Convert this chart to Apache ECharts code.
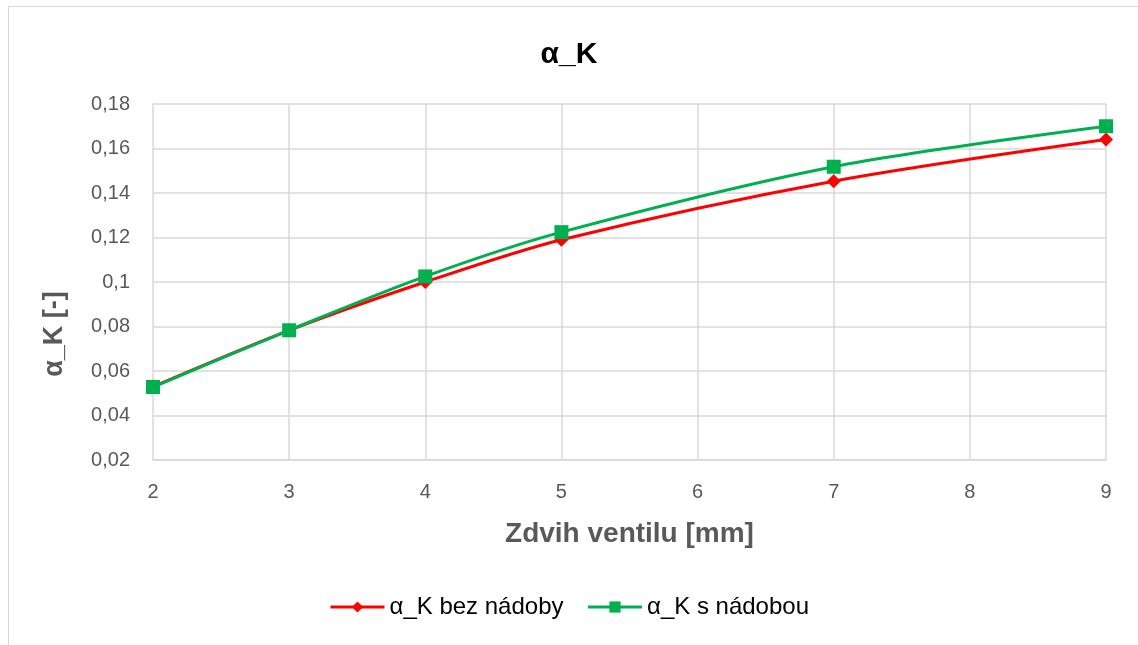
<!DOCTYPE html>
<html><head><meta charset="utf-8">
<script src="https://cdn.jsdelivr.net/npm/echarts@6/dist/echarts.min.js"></script>
<style>html,body{margin:0;padding:0;background:#fff}#c{width:1138px;height:645px}</style>
</head><body><div id="c"></div>
<script>
const xValues = [2, 3, 4, 5, 7, 9];
const bezNadoby = [0.0530, 0.0783, 0.1000, 0.1190, 0.1453, 0.1640];
const sNadobou = [0.0528, 0.0783, 0.1025, 0.1224, 0.1518, 0.1700];
const seriesNames = ['α_K bez nádoby', 'α_K s nádobou'];
const titleText = 'α_K';
const xName = 'Zdvih ventilu [mm]';
const yName = 'α_K [-]';

const font = '"Liberation Sans", "DejaVu Sans", sans-serif';
const chart = echarts.init(document.getElementById('c'));
const pairs = arr => xValues.map((x, i) => [x, arr[i]]);
chart.setOption({
  backgroundColor: '#fff',
  animation: false,
  graphic: [
    {type: 'rect', shape: {x: 8.5, y: 6.5, width: 1140, height: 650}, style: {fill: 'none', stroke: '#d9d9d9', lineWidth: 1}},
    {type: 'text', x: 55, y: 334, rotation: Math.PI / 2,
     style: {text: yName, fontFamily: font, fontSize: 27, fontWeight: 'bold', fill: '#595959', align: 'center', verticalAlign: 'middle'}}
  ],
  title: {text: titleText, left: 'center', top: 35, textStyle: {fontFamily: font, fontSize: 30, fontWeight: 'bold', color: '#000'}},
  grid: {left: 153, right: 32, top: 104, bottom: 185},
  legend: {
    bottom: 21, left: 'center', itemWidth: 54, itemHeight: 14, itemGap: 23,
    textStyle: {fontFamily: font, fontSize: 24, color: '#000'},
    lineStyle: {width: 3},
    data: seriesNames
  },
  xAxis: {
    type: 'value', min: 2, max: 9, interval: 1,
    name: xName, nameLocation: 'middle', nameGap: 60,
    nameTextStyle: {fontFamily: font, fontSize: 28, fontWeight: 'bold', color: '#595959'},
    axisLine: {show: true, lineStyle: {color: '#d9d9d9', width: 1.5}},
    axisTick: {show: false},
    axisLabel: {fontFamily: font, fontSize: 20, color: '#595959', margin: 22},
    splitLine: {show: true, lineStyle: {color: '#d9d9d9', width: 1.5}}
  },
  yAxis: {
    type: 'value', min: 0.02, max: 0.18, interval: 0.02,
    axisLine: {show: false}, axisTick: {show: false},
    axisLabel: {fontFamily: font, fontSize: 20, color: '#595959', margin: 23,
      formatter: v => String(+v.toFixed(2)).replace('.', ',')},
    splitLine: {show: true, lineStyle: {color: '#d9d9d9', width: 1.5}}
  },
  series: [
    {name: seriesNames[0], type: 'line', smooth: 0.3, data: pairs(bezNadoby),
     symbol: 'diamond', symbolSize: 14,
     lineStyle: {color: '#ff0000', width: 3}, itemStyle: {color: '#ff0000'}},
    {name: seriesNames[1], type: 'line', smooth: 0.3, data: pairs(sNadobou),
     symbol: 'rect', symbolSize: 14,
     lineStyle: {color: '#00b050', width: 3}, itemStyle: {color: '#00b050'}}
  ]
});
</script></body></html>
